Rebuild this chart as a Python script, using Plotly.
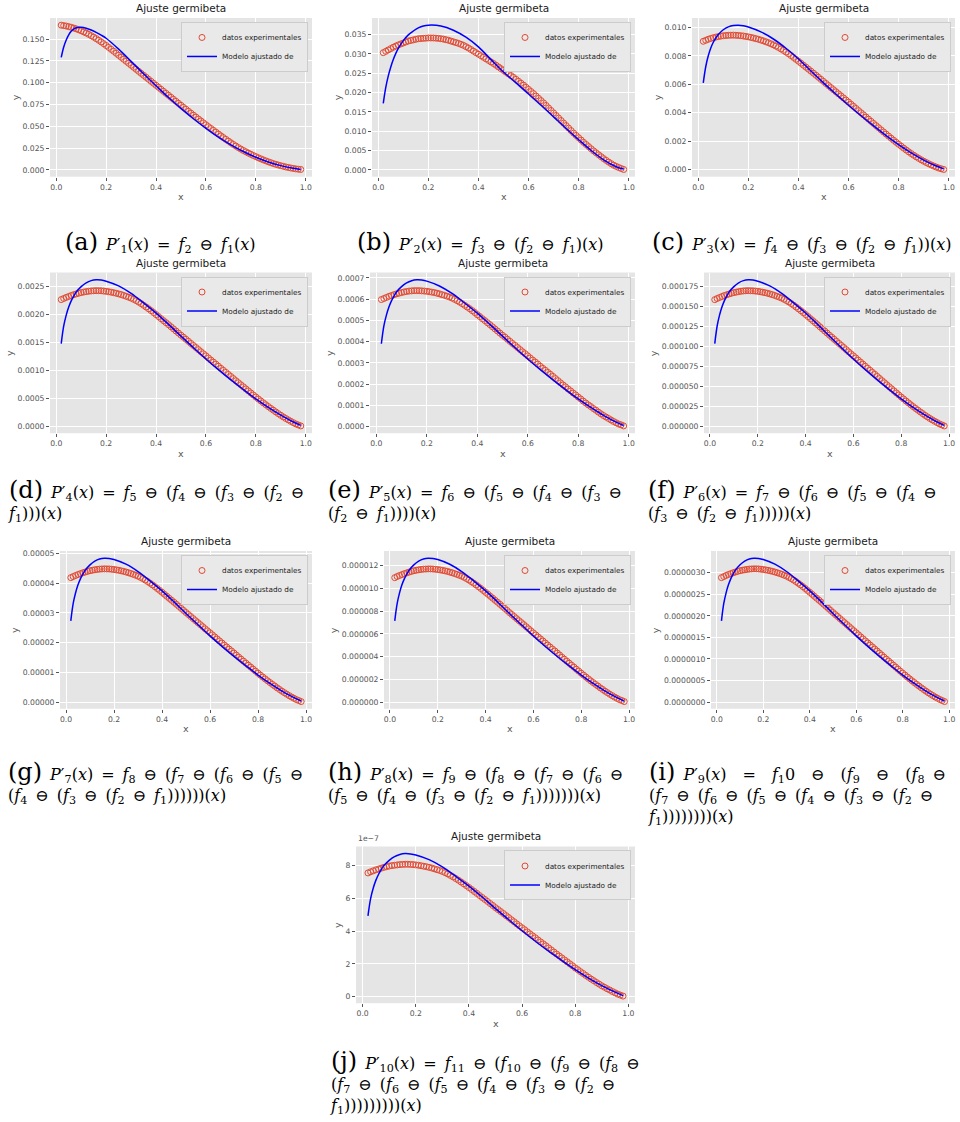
import numpy as np
import plotly.graph_objects as go

# ---------------------------------------------------------------- data
# sample positions of the experimental points (0.02 .. 0.98) and of the fitted curve
x_exp = [round(0.01 * k, 2) for k in range(2, 99)]
x_fit = [0.02, 0.03, 0.04, 0.05, 0.06, 0.07, 0.08, 0.10, 0.12, 0.14, 0.16, 0.18, 0.20,
         0.25, 0.30, 0.35, 0.40, 0.45, 0.50, 0.55, 0.60, 0.65, 0.70, 0.75, 0.80, 0.85,
         0.90, 0.95, 0.98]
x_ticks = [0.0, 0.2, 0.4, 0.6, 0.8, 1.0]

# (a) values in units of 1e-3
exp_a = [166.0, 165.5, 165.0, 164.3, 163.6, 162.7, 161.8, 160.7, 159.6, 158.3,
         157.0, 155.5, 154.0, 152.3, 150.6, 148.7, 146.8, 144.8, 142.7, 140.5,
         138.3, 136.1, 133.8, 131.5, 129.2, 126.9, 124.6, 122.3, 120.0, 117.7,
         115.4, 113.1, 110.8, 108.5, 106.2, 103.9, 101.6, 99.3, 97.0, 94.7,
         92.4, 90.1, 87.8, 85.5, 83.2, 80.9, 78.6, 76.3, 74.0, 71.7,
         69.5, 67.2, 65.0, 62.7, 60.5, 58.3, 56.1, 53.9, 51.7, 49.5,
         47.4, 45.3, 43.2, 41.1, 39.0, 37.0, 35.0, 33.0, 31.0, 29.1,
         27.3, 25.5, 23.8, 22.2, 20.7, 19.2, 17.8, 16.4, 15.1, 13.8,
         12.6, 11.4, 10.3, 9.2, 8.2, 7.2, 6.3, 5.5, 4.7, 4.0,
         3.3, 2.7, 2.1, 1.6, 1.1, 0.7, 0.4]
fit_a = [129.0, 141.0, 149.0, 155.0, 159.0, 161.5, 163.0, 163.5, 162.5, 160.5, 157.8, 154.6, 151.0,
         138.5, 124.5, 110.3, 96.5, 83.0, 70.5, 58.6, 47.6, 37.6, 28.7, 21.0, 14.4, 9.0, 4.8, 1.7, 0.5]
ticks_a = [0.0, 0.025, 0.05, 0.075, 0.1, 0.125, 0.15]

# (b) values in units of 1e-3
exp_b = [30.3, 30.65, 31.0, 31.35, 31.7, 32.0, 32.3, 32.55, 32.8, 33.05,
         33.3, 33.45, 33.6, 33.75, 33.9, 33.95, 34.0, 34.05, 34.1, 34.1,
         34.1, 34.05, 34.0, 33.9, 33.8, 33.65, 33.5, 33.3, 33.1, 32.9,
         32.7, 32.45, 32.2, 31.85, 31.5, 31.1, 30.7, 30.3, 29.9, 29.5,
         29.1, 28.7, 28.3, 27.9, 27.5, 27.05, 26.6, 26.15, 25.7, 25.25,
         24.8, 24.35, 23.9, 23.4, 22.9, 22.4, 21.9, 21.35, 20.8, 20.25,
         19.7, 19.1, 18.5, 17.9, 17.3, 16.65, 16.0, 15.35, 14.7, 14.05,
         13.4, 12.75, 12.1, 11.45, 10.8, 10.15, 9.5, 8.9, 8.3, 7.7,
         7.1, 6.55, 6.0, 5.45, 4.9, 4.4, 3.9, 3.4, 2.9, 2.45,
         2.0, 1.6, 1.2, 0.9, 0.6, 0.35, 0.1]
fit_b = [17.2, 21.3, 24.3, 26.6, 28.5, 30.1, 31.4, 33.4, 34.9, 35.9, 36.7, 37.2, 37.4,
         37.2, 36.1, 34.3, 31.8, 28.5, 25.3, 22.5, 19.6, 16.7, 13.7, 10.7, 7.8, 5.0, 2.6, 0.8, 0.2]
ticks_b = [0.0, 0.005, 0.01, 0.015, 0.02, 0.025, 0.03, 0.035]

# (c) values in units of 1e-4
exp_c = [90.2, 90.9, 91.6, 92.2, 92.7, 93.1, 93.5, 93.8, 94.1, 94.25,
         94.4, 94.45, 94.5, 94.4, 94.3, 94.1, 93.9, 93.6, 93.3, 92.9,
         92.5, 92.05, 91.6, 91.05, 90.5, 89.85, 89.2, 88.45, 87.7, 86.8,
         85.9, 84.85, 83.8, 82.65, 81.5, 80.2, 78.9, 77.55, 76.2, 74.8,
         73.4, 72.0, 70.6, 69.2, 67.8, 66.35, 64.9, 63.45, 62.0, 60.55,
         59.1, 57.65, 56.2, 54.75, 53.3, 51.85, 50.4, 48.95, 47.5, 46.0,
         44.5, 43.0, 41.5, 40.0, 38.5, 37.0, 35.5, 34.0, 32.5, 31.0,
         29.5, 28.0, 26.5, 25.05, 23.6, 22.15, 20.7, 19.3, 17.9, 16.55,
         15.2, 13.9, 12.6, 11.4, 10.2, 9.1, 8.0, 7.0, 6.0, 5.1,
         4.2, 3.4, 2.6, 1.9, 1.2, 0.7, 0.2]
fit_c = [61.0, 72.5, 80.0, 85.5, 89.5, 92.5, 95.0, 98.3, 100.3, 101.3, 101.5, 101.1, 100.2,
         96.8, 91.8, 85.3, 77.8, 69.3, 61.0, 53.0, 45.3, 37.9, 30.8, 24.0, 17.6, 11.8, 6.8, 2.6, 0.6]
ticks_c = [0.0, 0.002, 0.004, 0.006, 0.008, 0.010]

# (d) values in units of 1e-4
exp_d = [22.70, 22.90, 23.09, 23.26, 23.43, 23.58, 23.72, 23.84, 23.96, 24.05,
         24.13, 24.19, 24.25, 24.28, 24.30, 24.29, 24.28, 24.23, 24.18, 24.11,
         24.03, 23.94, 23.84, 23.72, 23.60, 23.45, 23.30, 23.13, 22.96, 22.75,
         22.53, 22.26, 21.99, 21.69, 21.38, 21.06, 20.73, 20.38, 20.02, 19.66,
         19.29, 18.93, 18.57, 18.21, 17.84, 17.46, 17.08, 16.71, 16.33, 15.97,
         15.60, 15.23, 14.85, 14.49, 14.12, 13.75, 13.37, 13.01, 12.64, 12.26,
         11.88, 11.52, 11.15, 10.78, 10.40, 10.04, 9.67, 9.31, 8.94, 8.57,
         8.19, 7.83, 7.46, 7.10, 6.73, 6.37, 6.00, 5.64, 5.27, 4.92,
         4.57, 4.23, 3.89, 3.56, 3.23, 2.92, 2.60, 2.30, 1.99, 1.71,
         1.43, 1.18, 0.92, 0.69, 0.46, 0.28, 0.10]
fit_d = [14.82, 17.98, 19.93, 21.38, 22.48, 23.33, 24.06, 25.03, 25.71, 26.10, 26.24, 26.20, 26.00,
         25.15, 23.81, 22.11, 20.29, 18.27, 16.16, 14.09, 12.08, 10.16, 8.33, 6.61, 4.93, 3.40,
         2.02, 0.80, 0.19]
ticks_d = [0.0, 0.0005, 0.001, 0.0015, 0.002, 0.0025]

# (e) values in units of 1e-4
exp_e = [5.98, 6.03, 6.08, 6.13, 6.17, 6.21, 6.25, 6.28, 6.31, 6.34,
         6.36, 6.38, 6.39, 6.40, 6.40, 6.40, 6.39, 6.38, 6.37, 6.35,
         6.33, 6.31, 6.28, 6.25, 6.21, 6.18, 6.14, 6.10, 6.05, 5.99,
         5.93, 5.86, 5.79, 5.71, 5.63, 5.55, 5.46, 5.37, 5.27, 5.18,
         5.08, 4.99, 4.89, 4.80, 4.70, 4.60, 4.50, 4.40, 4.30, 4.21,
         4.11, 4.01, 3.91, 3.82, 3.72, 3.62, 3.52, 3.43, 3.33, 3.23,
         3.13, 3.04, 2.94, 2.84, 2.74, 2.65, 2.55, 2.46, 2.36, 2.26,
         2.16, 2.06, 1.96, 1.87, 1.77, 1.68, 1.58, 1.49, 1.39, 1.30,
         1.20, 1.11, 1.02, 0.94, 0.85, 0.77, 0.68, 0.60, 0.52, 0.45,
         0.38, 0.31, 0.24, 0.18, 0.12, 0.08, 0.03]
fit_e = [3.90, 4.74, 5.25, 5.63, 5.92, 6.14, 6.34, 6.59, 6.77, 6.87, 6.91, 6.90, 6.85,
         6.62, 6.27, 5.82, 5.34, 4.81, 4.26, 3.71, 3.18, 2.68, 2.20, 1.74, 1.30, 0.90,
         0.53, 0.21, 0.05]
ticks_e = [0.0, 0.0001, 0.0002, 0.0003, 0.0004, 0.0005, 0.0006, 0.0007]

# (f) values in units of 1e-6
exp_f = [158.8, 160.2, 161.5, 162.7, 163.9, 164.9, 165.9, 166.8, 167.6, 168.2,
         168.8, 169.3, 169.7, 169.9, 170.0, 169.9, 169.8, 169.5, 169.2, 168.7,
         168.1, 167.5, 166.8, 166.0, 165.1, 164.1, 163.0, 161.9, 160.7, 159.2,
         157.6, 155.8, 153.9, 151.8, 149.6, 147.3, 145.0, 142.6, 140.1, 137.6,
         135.0, 132.5, 129.9, 127.4, 124.8, 122.2, 119.5, 116.9, 114.2, 111.7,
         109.1, 106.5, 103.9, 101.4, 98.8, 96.2, 93.5, 91.0, 88.4, 85.8,
         83.1, 80.6, 78.0, 75.4, 72.8, 70.3, 67.7, 65.2, 62.6, 60.0,
         57.3, 54.8, 52.2, 49.7, 47.1, 44.6, 42.0, 39.5, 36.9, 34.5,
         32.0, 29.6, 27.2, 24.9, 22.6, 20.4, 18.2, 16.1, 13.9, 12.0,
         10.0, 8.3, 6.5, 4.9, 3.2, 2.0, 0.7]
fit_f = [103.7, 125.8, 139.4, 149.6, 157.3, 163.2, 168.3, 175.1, 179.9, 182.6, 183.6, 183.3, 181.9,
         176.0, 166.6, 154.7, 142.0, 127.8, 113.1, 98.6, 84.5, 71.1, 58.3, 46.2, 34.5, 23.8,
         14.1, 5.6, 1.4]
ticks_f = [0.0, 0.000025, 0.00005, 0.000075, 0.0001, 0.000125, 0.00015, 0.000175]

# (g) values in units of 1e-6
exp_g = [41.84, 42.20, 42.56, 42.88, 43.19, 43.46, 43.72, 43.95, 44.17, 44.33,
         44.49, 44.60, 44.71, 44.76, 44.80, 44.78, 44.76, 44.67, 44.58, 44.45,
         44.31, 44.13, 43.95, 43.73, 43.50, 43.23, 42.96, 42.65, 42.34, 41.94,
         41.53, 41.04, 40.54, 39.98, 39.42, 38.82, 38.21, 37.57, 36.92, 36.25,
         35.57, 34.90, 34.23, 33.56, 32.88, 32.19, 31.49, 30.80, 30.11, 29.44,
         28.76, 28.07, 27.37, 26.70, 26.03, 25.34, 24.64, 23.97, 23.30, 22.61,
         21.91, 21.24, 20.56, 19.87, 19.17, 18.50, 17.83, 17.16, 16.49, 15.80,
         15.10, 14.43, 13.75, 13.08, 12.41, 11.74, 11.07, 10.40, 9.72, 9.07,
         8.42, 7.80, 7.17, 6.57, 5.96, 5.38, 4.79, 4.23, 3.67, 3.16,
         2.64, 2.17, 1.70, 1.28, 0.85, 0.52, 0.18]
fit_g = [27.33, 33.15, 36.74, 39.42, 41.44, 43.01, 44.35, 46.14, 47.40, 48.12, 48.38, 48.29, 47.94,
         46.37, 43.90, 40.77, 37.41, 33.69, 29.79, 25.98, 22.27, 18.73, 15.37, 12.19, 9.09, 6.27,
         3.72, 1.48, 0.36]
ticks_g = [0.0, 0.00001, 0.00002, 0.00003, 0.00004, 0.00005]

# (h) values in units of 1e-6
exp_h = [10.93, 11.03, 11.12, 11.20, 11.28, 11.35, 11.42, 11.48, 11.54, 11.58,
         11.62, 11.65, 11.68, 11.69, 11.70, 11.70, 11.69, 11.67, 11.64, 11.61,
         11.57, 11.53, 11.48, 11.42, 11.36, 11.29, 11.22, 11.14, 11.06, 10.96,
         10.85, 10.72, 10.59, 10.45, 10.30, 10.14, 9.98, 9.81, 9.64, 9.47,
         9.29, 9.12, 8.94, 8.77, 8.59, 8.41, 8.23, 8.05, 7.86, 7.69,
         7.51, 7.33, 7.15, 6.98, 6.80, 6.62, 6.44, 6.26, 6.08, 5.90,
         5.72, 5.55, 5.37, 5.19, 5.01, 4.84, 4.66, 4.49, 4.31, 4.13,
         3.94, 3.77, 3.59, 3.42, 3.24, 3.07, 2.89, 2.72, 2.54, 2.37,
         2.20, 2.04, 1.87, 1.72, 1.56, 1.41, 1.25, 1.11, 0.96, 0.83,
         0.69, 0.57, 0.44, 0.33, 0.22, 0.14, 0.05]
fit_h = [7.14, 8.66, 9.59, 10.30, 10.82, 11.23, 11.58, 12.05, 12.38, 12.57, 12.64, 12.61, 12.52,
         12.11, 11.47, 10.65, 9.77, 8.80, 7.78, 6.79, 5.81, 4.89, 4.01, 3.18, 2.38, 1.64,
         0.97, 0.39, 0.09]
ticks_h = [0.0, 0.000002, 0.000004, 0.000006, 0.000008, 0.00001, 0.000012]

# (i) values in units of 1e-8
exp_i = [288.6, 291.1, 293.6, 295.8, 297.9, 299.8, 301.6, 303.2, 304.7, 305.8,
         306.8, 307.6, 308.4, 308.7, 309.0, 308.9, 308.7, 308.1, 307.5, 306.6,
         305.6, 304.4, 303.1, 301.6, 300.0, 298.2, 296.3, 294.2, 292.0, 289.2,
         286.4, 283.0, 279.6, 275.8, 271.9, 267.8, 263.6, 259.1, 254.6, 250.0,
         245.3, 240.7, 236.1, 231.5, 226.8, 222.0, 217.2, 212.4, 207.6, 203.0,
         198.4, 193.6, 188.8, 184.2, 179.5, 174.8, 170.0, 165.4, 160.7, 155.9,
         151.1, 146.5, 141.8, 137.1, 132.3, 127.7, 123.0, 118.4, 113.7, 108.9,
         104.1, 99.5, 94.9, 90.3, 85.6, 81.0, 76.3, 71.7, 67.1, 62.6,
         58.1, 53.8, 49.4, 45.3, 41.1, 37.1, 33.1, 29.2, 25.3, 21.8,
         18.2, 15.0, 11.7, 8.8, 5.9, 3.6, 1.2]
fit_i = [188.5, 228.7, 253.4, 271.9, 285.8, 296.6, 305.9, 318.3, 326.9, 331.9, 333.7, 333.1, 330.6,
         319.8, 302.8, 281.2, 258.0, 232.4, 205.5, 179.2, 153.6, 129.2, 106.0, 84.0, 62.7, 43.3,
         25.6, 10.2, 2.5]
ticks_i = [0.0, 0.0000005, 0.000001, 0.0000015, 0.000002, 0.0000025, 0.000003]

# (j) values in units of 1e-7 (the axis shows them with a 1e-7 offset label)
exp_j = [7.55, 7.62, 7.68, 7.74, 7.79, 7.84, 7.89, 7.93, 7.97, 8.00,
         8.02, 8.04, 8.06, 8.07, 8.08, 8.08, 8.07, 8.06, 8.04, 8.02,
         7.99, 7.96, 7.93, 7.89, 7.85, 7.80, 7.75, 7.70, 7.64, 7.57,
         7.49, 7.40, 7.31, 7.21, 7.11, 7.00, 6.89, 6.78, 6.66, 6.54,
         6.42, 6.30, 6.17, 6.05, 5.93, 5.81, 5.68, 5.56, 5.43, 5.31,
         5.19, 5.07, 4.94, 4.82, 4.69, 4.57, 4.44, 4.32, 4.20, 4.08,
         3.95, 3.83, 3.71, 3.59, 3.46, 3.34, 3.22, 3.10, 2.97, 2.85,
         2.72, 2.60, 2.48, 2.36, 2.24, 2.12, 2.00, 1.88, 1.75, 1.64,
         1.52, 1.41, 1.29, 1.18, 1.07, 0.97, 0.86, 0.76, 0.66, 0.57,
         0.48, 0.40, 0.31, 0.23, 0.15, 0.09, 0.03]
fit_j = [4.93, 5.98, 6.63, 7.11, 7.47, 7.76, 8.00, 8.32, 8.55, 8.68, 8.73, 8.71, 8.65,
         8.36, 7.92, 7.35, 6.75, 6.08, 5.37, 4.69, 4.02, 3.38, 2.77, 2.20, 1.64, 1.13,
         0.67, 0.27, 0.06]
ticks_j = [0, 2, 4, 6, 8]

# ---------------------------------------------------------------- captions
SP = "\u2002"          # en space, used around the binary operators


def P(n):
    return f"<i>P</i>′<sub>{n}</sub>(<i>x</i>)"


def f(n):
    return f"<i>f</i><sub>{n}</sub>"


EQ = SP + "=" + SP
OM = SP + "⊖" + SP
END = SP + "⊖"
X = "(<i>x</i>)"


def lab(c):
    return f'<span style="font-size:24px">({c})</span>' + SP


cap_a = lab("a") + P(1) + EQ + f(2) + OM + f(1) + X
cap_b = lab("b") + P(2) + EQ + f(3) + OM + "(" + f(2) + OM + f(1) + ")" + X
cap_c = lab("c") + P(3) + EQ + f(4) + OM + "(" + f(3) + OM + "(" + f(2) + OM + f(1) + "))" + X
cap_d = (lab("d") + P(4) + EQ + f(5) + OM + "(" + f(4) + OM + "(" + f(3) + OM + "(" + f(2) + END
         + "<br>" + f(1) + ")))" + X)
cap_e = (lab("e") + P(5) + EQ + f(6) + OM + "(" + f(5) + OM + "(" + f(4) + OM + "(" + f(3) + END
         + "<br>(" + f(2) + OM + f(1) + "))))" + X)
cap_f = (lab("f") + P(6) + EQ + f(7) + OM + "(" + f(6) + OM + "(" + f(5) + OM + "(" + f(4) + END
         + "<br>(" + f(3) + OM + "(" + f(2) + OM + f(1) + ")))))" + X)
cap_g = (lab("g") + P(7) + EQ + f(8) + OM + "(" + f(7) + OM + "(" + f(6) + OM + "(" + f(5) + END
         + "<br>(" + f(4) + OM + "(" + f(3) + OM + "(" + f(2) + OM + f(1) + "))))))" + X)
cap_h = (lab("h") + P(8) + EQ + f(9) + OM + "(" + f(8) + OM + "(" + f(7) + OM + "(" + f(6) + END
         + "<br>(" + f(5) + OM + "(" + f(4) + OM + "(" + f(3) + OM + "(" + f(2) + OM + f(1)
         + ")))))))" + X)
WIDE = SP * 2
cap_i = (lab("i") + P(9) + WIDE + "=" + WIDE + f(1) + "0" + WIDE + "⊖" + WIDE + "(" + f(9)
         + WIDE + "⊖" + WIDE + "(" + f(8) + END
         + "<br>(" + f(7) + OM + "(" + f(6) + OM + "(" + f(5) + OM + "(" + f(4) + OM + "(" + f(3)
         + OM + "(" + f(2) + END
         + "<br>" + f(1) + "))))))))" + X)
cap_j = (lab("j") + P(10) + EQ + f(11) + OM + "(" + f(10) + OM + "(" + f(9) + OM + "(" + f(8) + END
         + "<br>(" + f(7) + OM + "(" + f(6) + OM + "(" + f(5) + OM + "(" + f(4) + OM + "(" + f(3)
         + OM + "(" + f(2) + END
         + "<br>" + f(1) + ")))))))))" + X)

# ---------------------------------------------------------------- layout
W, H = 960, 1122
RED = "#E24A33"
TICK_FONT = dict(family="DejaVu Sans", size=7.7, color="#555555")
CAP_FONT = dict(family="DejaVu Serif", size=16, color="black")

# plot box in pixels (left, right, top, bottom) and caption anchor
panels = [
    dict(exp=exp_a, fit=fit_a, unit=1e-3, ticks=ticks_a, fmt=".3f", box=(50, 312, 16, 175),
         cap=cap_a, cap_x=160, cap_y=240, center=True),
    dict(exp=exp_b, fit=fit_b, unit=1e-3, ticks=ticks_b, fmt=".3f", box=(372, 635, 16, 175),
         cap=cap_b, cap_x=480, cap_y=240, center=True),
    dict(exp=exp_c, fit=fit_c, unit=1e-4, ticks=ticks_c, fmt=".3f", box=(692, 955, 16, 175),
         cap=cap_c, cap_x=802, cap_y=240, center=True),
    dict(exp=exp_d, fit=fit_d, unit=1e-4, ticks=ticks_d, fmt=".4f", box=(50, 312, 271, 432),
         cap=cap_d, cap_x=6, cap_y=486, center=False),
    dict(exp=exp_e, fit=fit_e, unit=1e-4, ticks=ticks_e, fmt=".4f", box=(370, 635, 271, 432),
         cap=cap_e, cap_x=326, cap_y=486, center=False),
    dict(exp=exp_f, fit=fit_f, unit=1e-6, ticks=ticks_f, fmt=".6f", box=(704, 955, 271, 432),
         cap=cap_f, cap_x=646, cap_y=486, center=False),
    dict(exp=exp_g, fit=fit_g, unit=1e-6, ticks=ticks_g, fmt=".5f", box=(60, 312, 550, 708),
         cap=cap_g, cap_x=6, cap_y=768, center=False),
    dict(exp=exp_h, fit=fit_h, unit=1e-6, ticks=ticks_h, fmt=".6f", box=(384, 635, 550, 708),
         cap=cap_h, cap_x=326, cap_y=768, center=False),
    dict(exp=exp_i, fit=fit_i, unit=1e-8, ticks=ticks_i, fmt=".7f", box=(711, 955, 550, 708),
         cap=cap_i, cap_x=646, cap_y=768, center=False),
    dict(exp=exp_j, fit=fit_j, unit=1.0, ticks=ticks_j, fmt=".0f", box=(356, 635, 846, 1003),
         cap=cap_j, cap_x=328, cap_y=1058, center=False, offset="1e\u22127"),
]

fig = go.Figure()
annotations = []
layout = {}

for k, p in enumerate(panels):
    n = k + 1
    sfx = "" if n == 1 else str(n)
    xa, ya, leg = "x" + sfx, "y" + sfx, "legend" + sfx
    ye = np.array(p["exp"]) * p["unit"]
    yf = np.array(p["fit"]) * p["unit"]

    fig.add_trace(go.Scatter(
        x=x_exp[:len(ye)], y=ye, mode="markers", name="datos experimentales",
        marker=dict(symbol="circle-open", size=6, color=RED, line=dict(width=1, color=RED)),
        xaxis=xa, yaxis=ya, legend=leg))
    fig.add_trace(go.Scatter(
        x=x_fit, y=yf, mode="lines", name="Modelo ajustado de",
        line=dict(color="blue", width=1.5, shape="spline"),
        xaxis=xa, yaxis=ya, legend=leg))

    x0, x1, y0, y1 = p["box"]
    lo = min(ye.min(), yf.min())
    hi = max(ye.max(), yf.max())
    pad = 0.05 * (hi - lo)

    common = dict(showgrid=True, gridcolor="white", gridwidth=1, zeroline=False, showline=False,
                  ticks="outside", ticklen=3, tickwidth=1, tickcolor="#555555",
                  tickfont=TICK_FONT)
    layout["xaxis" + sfx] = dict(domain=[x0 / W, x1 / W], range=[-0.025, 1.025], anchor=ya,
                                 tickvals=x_ticks, tickformat=".1f", **common)
    layout["yaxis" + sfx] = dict(domain=[1 - y1 / H, 1 - y0 / H], range=[lo - pad, hi + pad],
                                 anchor=xa, tickvals=p["ticks"], tickformat=p["fmt"], **common)

    layout[leg] = dict(x=(x1 - 4) / W, y=1 - (y0 + 4) / H, xanchor="right", yanchor="top",
                       xref="paper", yref="paper", bgcolor="#E9E9E9", bordercolor="#CCCCCC",
                       borderwidth=1, font=dict(family="DejaVu Sans", size=7.3, color="#222222"),
                       tracegroupgap=0)

    # panel title
    annotations.append(dict(text="Ajuste germibeta", x=(x0 + x1) / 2 / W, y=1 - (y0 - 2) / H,
                            xref="paper", yref="paper", xanchor="center", yanchor="bottom",
                            showarrow=False,
                            font=dict(family="DejaVu Sans", size=10.5, color="#1a1a1a")))
    # axis labels
    annotations.append(dict(text="x", x=(x0 + x1) / 2 / W, y=1 - (y1 + 20) / H,
                            xref="paper", yref="paper", xanchor="center", yanchor="middle",
                            showarrow=False,
                            font=dict(family="DejaVu Sans", size=9.5, color="#555555")))
    widest = max(len(format(t, p["fmt"])) for t in p["ticks"])
    has_dot = p["fmt"] != ".0f"
    lab_w = 7.7 * (0.636 * (widest - (1 if has_dot else 0)) + (0.318 if has_dot else 0))
    annotations.append(dict(text="y", x=(x0 - lab_w - 13) / W, y=1 - (y0 + y1) / 2 / H,
                            xref="paper", yref="paper", xanchor="center", yanchor="middle",
                            textangle=-90, showarrow=False,
                            font=dict(family="DejaVu Sans", size=9.5, color="#555555")))
    if "offset" in p:
        annotations.append(dict(text=p["offset"], x=x0 / W, y=1 - (y0 - 1) / H,
                                xref="paper", yref="paper", xanchor="left", yanchor="bottom",
                                showarrow=False, font=TICK_FONT))

    # caption below the panel
    if p["center"]:
        annotations.append(dict(text=p["cap"], x=p["cap_x"] / W, y=1 - p["cap_y"] / H,
                                xref="paper", yref="paper", xanchor="center", yanchor="middle",
                                showarrow=False, font=CAP_FONT))
    else:
        annotations.append(dict(text=p["cap"], x=p["cap_x"] / W, y=1 - (p["cap_y"] - 13) / H,
                                xref="paper", yref="paper", xanchor="left", yanchor="top",
                                align="left", showarrow=False, font=CAP_FONT))

fig.update_layout(
    width=W, height=H, margin=dict(l=0, r=0, t=0, b=0),
    paper_bgcolor="white", plot_bgcolor="#E5E5E5",
    showlegend=True, annotations=annotations, **layout)

fig.write_html("out.html")
